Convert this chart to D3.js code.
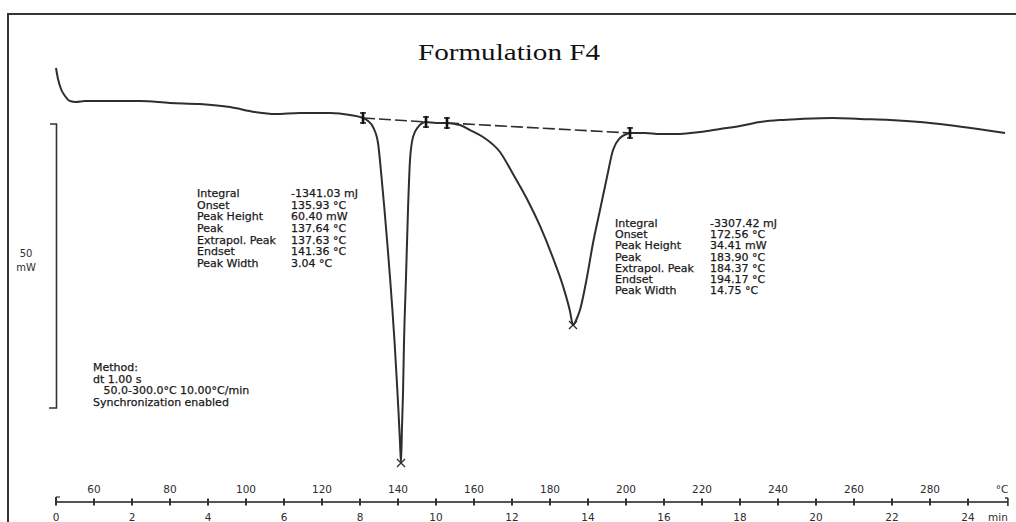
<!DOCTYPE html>
<html>
<head>
<meta charset="utf-8">
<script src="https://cdn.jsdelivr.net/npm/d3@7"></script>
<style>
  html, body { margin: 0; padding: 0; background: #fff; }
  svg { display: block; }
</style>
</head>
<body>
<svg id="chart" width="1016" height="522"></svg>
<script>
// ---------- DATA ----------
const title = "Formulation F4";
// DSC curve: temperature (°C) and heat flow (mW, relative)
const tempC = [50.0,50.53,51.32,52.37,53.68,55.26,57.63,64.21,72.11,80.0,87.89,95.79,102.37,107.63,114.21,122.11,127.37,130.79,
  132.11,133.42,134.74,135.66,136.45,137.18,137.89,138.53,139.11,139.63,140.11,140.53,140.79,
  141.05,141.32,141.58,142.11,142.63,143.16,143.95,145.26,147.37,150.0,152.89,
  155.0,156.32,158.95,162.37,166.84,170.26,173.95,177.37,180.79,183.42,185.26,186.05,
  187.11,187.89,189.74,191.32,193.16,195.0,196.58,198.42,200.26,201.05,
  205.0,208.95,214.21,219.47,224.74,230.0,235.26,240.53,245.79,254.47,261.58,269.47,277.37,284.74,292.63,299.74];
const heatFlow = [5.81,3.87,2.11,0.88,0,-0.18,0,0,0,-0.35,-0.53,-1.06,-1.94,-2.29,-2.11,-2.11,-2.46,-2.99,
  -3.52,-4.58,-7.39,-13.38,-19.19,-25.0,-30.99,-36.80,-42.61,-48.59,-54.40,-60.21,-63.73,
  -57.39,-51.41,-42.61,-30.99,-19.19,-10.39,-6.34,-4.58,-3.70,-3.87,-3.87,
  -4.05,-4.23,-5.11,-6.34,-8.98,-12.85,-17.25,-22.0,-27.64,-32.57,-37.0,-39.44,
  -38.20,-36.80,-30.99,-25.0,-19.19,-13.38,-8.63,-6.51,-5.81,-5.63,
  -5.63,-5.81,-5.81,-5.46,-4.93,-4.40,-3.70,-3.35,-3.17,-2.99,-3.17,-3.35,-3.70,-4.23,-4.93,-5.63];

// integration limits (markers) and baselines
const limitT = [130.79, 147.37, 152.89, 201.05];
const limitV = [-2.99, -3.70, -3.87, -5.63];
const baselinePairs = [[0, 1], [2, 3]];
// peak positions
const peakT = [140.79, 186.05];
const peakV = [-63.73, -39.44];

// result tables
const resultLabels = ["Integral", "Onset", "Peak Height", "Peak", "Extrapol. Peak", "Endset", "Peak Width"];
const peak1Values = ["-1341.03 mJ", "135.93 °C", "60.40 mW", "137.64 °C", "137.63 °C", "141.36 °C", "3.04 °C"];
const peak2Values = ["-3307.42 mJ", "172.56 °C", "34.41 mW", "183.90 °C", "184.37 °C", "194.17 °C", "14.75 °C"];
const methodLines = ["Method:", "dt 1.00 s", "   50.0-300.0°C 10.00°C/min", "Synchronization enabled"];

// axes
const timeTicks = d3.range(0, 25, 1);          // minutes
const timeLabels = d3.range(0, 25, 2);         // 0..24 min
const tempLabels = d3.range(60, 281, 20);      // 60..280 °C
const startTemp = 50, rate = 10;               // °C, °C/min
const scaleBarTop = -4.05, scaleBarSpan = 50;  // mW

// ---------- DRAW ----------
const svg = d3.select("#chart");
const ink = "#2e2e2e";

const xTime = d3.scaleLinear().domain([0, 25]).range([56, 1006]);
const xT = T => xTime((T - startTemp) / rate);
const y = d3.scaleLinear().domain([0, -64]).range([101, 101 + 64 * 5.68]);

// frame
svg.append("rect").attr("x", 8).attr("y", 14).attr("width", 1030).attr("height", 540)
  .attr("fill", "none").attr("stroke", "#333").attr("stroke-width", 2);

// title
svg.append("text").attr("x", 418).attr("y", 60)
  .attr("font-family", "Liberation Serif, Times New Roman, serif").attr("font-size", 24)
  .attr("textLength", 182).attr("lengthAdjust", "spacingAndGlyphs")
  .attr("fill", "#111").text(title);

// baselines (dashed)
baselinePairs.forEach(([a, b]) => {
  svg.append("line")
    .attr("x1", xT(limitT[a])).attr("y1", y(limitV[a]))
    .attr("x2", xT(limitT[b])).attr("y2", y(limitV[b]))
    .attr("stroke", ink).attr("stroke-width", 1.6).attr("stroke-dasharray", "12,4");
});

// curve
const pts = tempC.map((t, i) => [t, heatFlow[i]]);
svg.append("path").datum(pts)
  .attr("d", d3.line().x(d => xT(d[0])).y(d => y(d[1])).curve(d3.curveMonotoneX))
  .attr("fill", "none").attr("stroke", ink).attr("stroke-width", 2);

// limit markers
limitT.forEach((t, i) => {
  const cx = xT(t), cy = y(limitV[i]);
  const g = svg.append("g").attr("stroke", "#111").attr("stroke-width", 2.6);
  g.append("line").attr("x1", cx).attr("x2", cx).attr("y1", cy - 6).attr("y2", cy + 6);
  g.append("line").attr("x1", cx - 3).attr("x2", cx + 3).attr("y1", cy - 5).attr("y2", cy - 5).attr("stroke-width", 1.4);
  g.append("line").attr("x1", cx - 3).attr("x2", cx + 3).attr("y1", cy + 5).attr("y2", cy + 5).attr("stroke-width", 1.4);
});

// peak crosses
peakT.forEach((t, i) => {
  const cx = xT(t), cy = y(peakV[i]);
  svg.append("path").attr("d", `M${cx-4},${cy-4}L${cx+4},${cy+4}M${cx-4},${cy+4}L${cx+4},${cy-4}`)
    .attr("stroke", ink).attr("stroke-width", 1.3);
});

// scale bar
const sbTop = y(scaleBarTop), sbBot = y(scaleBarTop - scaleBarSpan);
svg.append("path").attr("d", `M50,${sbTop}H56.5V${sbBot}H49`)
  .attr("fill", "none").attr("stroke", "#333").attr("stroke-width", 1.6);
const tfont = "DejaVu Sans, Verdana, sans-serif";
svg.append("text").attr("x", 26).attr("y", (sbTop + sbBot) / 2 - 9).attr("text-anchor", "middle")
  .attr("font-family", tfont).attr("font-size", 10).attr("fill", ink).text(String(scaleBarSpan));
svg.append("text").attr("x", 26).attr("y", (sbTop + sbBot) / 2 + 5).attr("text-anchor", "middle")
  .attr("font-family", tfont).attr("font-size", 10).attr("fill", ink).text("mW");

// result tables
function table(x0, x1, yTop, dy, values) {
  const g = svg.append("g").attr("font-family", tfont).attr("font-size", 11)
    .attr("fill", "#1a1a1a").attr("stroke", "#1a1a1a").attr("stroke-width", 0.25);
  resultLabels.forEach((l, i) => {
    g.append("text").attr("x", x0).attr("y", yTop + i * dy).text(l);
    g.append("text").attr("x", x1).attr("y", yTop + i * dy).text(values[i]);
  });
}
table(197, 291, 197, 11.65, peak1Values);
table(615, 710, 227, 11.2, peak2Values);

// method block
const mg = svg.append("g").attr("font-family", tfont).attr("font-size", 11)
  .attr("fill", "#1a1a1a").attr("stroke", "#1a1a1a").attr("stroke-width", 0.25);
methodLines.forEach((l, i) => {
  mg.append("text").attr("x", 93).attr("y", 371 + i * 11.7).attr("xml:space", "preserve")
    .style("white-space", "pre").text(l);
});

// time/temperature axis
const axY = 502;
svg.append("line").attr("x1", xTime(0)).attr("x2", xTime(25.05)).attr("y1", axY).attr("y2", axY)
  .attr("stroke", "#555").attr("stroke-width", 2);
svg.selectAll(".tk").data(timeTicks).enter().append("line")
  .attr("x1", d => xTime(d)).attr("x2", d => xTime(d))
  .attr("y1", d => d === 0 ? axY - 5 : axY - 3.5).attr("y2", axY + 3.5)
  .attr("stroke", "#333").attr("stroke-width", 2);
svg.append("path").attr("d", `M${xTime(0)},${axY-5}h4`).attr("stroke", "#333").attr("stroke-width", 1.2);
svg.append("path").attr("d", `M${xTime(25.05)},${axY-4}V${axY+4}M${xTime(25.05)},${axY-4}h-3`)
  .attr("stroke", "#333").attr("stroke-width", 1.6).attr("fill", "none");

const axFont = { "font-family": tfont, "font-size": 10.5, "fill": ink };
function axText(sel) { Object.entries(axFont).forEach(([k, v]) => sel.attr(k, v)); return sel; }
axText(svg.selectAll(".tl").data(tempLabels).enter().append("text")
  .attr("x", d => xT(d)).attr("y", 493).attr("text-anchor", "middle")).text(d => d);
axText(svg.append("text").attr("x", 1002).attr("y", 493).attr("text-anchor", "middle")).text("°C");
axText(svg.selectAll(".ml").data(timeLabels).enter().append("text")
  .attr("x", d => xTime(d)).attr("y", 521).attr("text-anchor", "middle")).text(d => d);
axText(svg.append("text").attr("x", 998).attr("y", 521).attr("text-anchor", "middle")).text("min");
</script>
</body>
</html>
